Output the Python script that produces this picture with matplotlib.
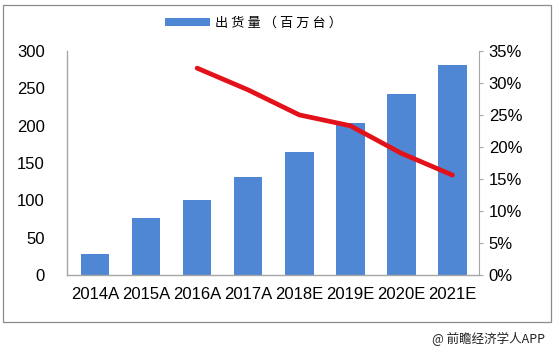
import matplotlib.pyplot as plt
from matplotlib.patches import Rectangle
from matplotlib.ticker import PercentFormatter

plt.rcParams['font.family'] = ['Liberation Sans', 'Noto Sans CJK SC', 'DejaVu Sans']

# data
years = ["2014A", "2015A", "2016A", "2017A", "2018E", "2019E", "2020E", "2021E"]
shipments = [28, 76, 101, 131, 165, 204, 242, 281]
growth_years = ["2016A", "2017A", "2018E", "2019E", "2020E", "2021E"]
growth = [32.3, 28.9, 25.0, 23.3, 19.0, 15.6]

bar_color = "#4f87d4"
axis_gray = "#a6a6a6"

fig = plt.figure(figsize=(5.57, 3.53), dpi=100)

# outer frame
fig.patches.append(Rectangle((3 / 557, 1 - 322 / 353), 548 / 557, 317 / 353,
                             transform=fig.transFigure, fill=False,
                             edgecolor="#8c8c8c", linewidth=0.9))

ax = fig.add_axes([0.120, 0.221, 0.740, 0.635])
x = list(range(len(years)))
bars = ax.bar(x, shipments, width=0.56, color=bar_color, zorder=2)
ax.set_xlim(-0.55, 7.52)
ax.set_ylim(0, 300)
ax.set_yticks(range(0, 301, 50))
ax.set_xticks(x)
ax.set_xticklabels(years)
ax.tick_params(axis="x", labelsize=12, length=0, pad=9)
ax.tick_params(axis="y", labelsize=12, length=0, pad=16)
for side in ["top", "right"]:
    ax.spines[side].set_visible(False)
for side in ["left", "bottom"]:
    ax.spines[side].set_color(axis_gray)
    ax.spines[side].set_linewidth(1.0)

ax2 = ax.twinx()
gx = [years.index(y) for y in growth_years]
ax2.plot(gx, growth, color="#e3111a", linewidth=3.4, solid_joinstyle="round",
         solid_capstyle="round", zorder=3)
ax2.set_ylim(0, 35)
ax2.set_yticks(range(0, 36, 5))
ax2.yaxis.set_major_formatter(PercentFormatter(decimals=0))
ax2.tick_params(axis="y", labelsize=12, length=3, color=axis_gray, pad=4)
for side in ["top", "left", "bottom"]:
    ax2.spines[side].set_visible(False)
ax2.spines["right"].set_color(axis_gray)

fig.legend(handles=[bars], labels=["出 货 量 （ 百 万 台 ）"], loc="center",
           bbox_to_anchor=(0.455, 0.935), frameon=False,
           prop={"family": ["Noto Sans CJK SC"], "size": 9.5},
           handlelength=3.4, handleheight=0.55, handletextpad=0.4)

fig.text(0.978, 0.04, "@ 前瞻经济学人APP", ha="right", va="center",
         fontsize=9, family=["Noto Sans CJK SC", "DejaVu Sans"], color="#222222")

fig.savefig("out.png", dpi=100)
